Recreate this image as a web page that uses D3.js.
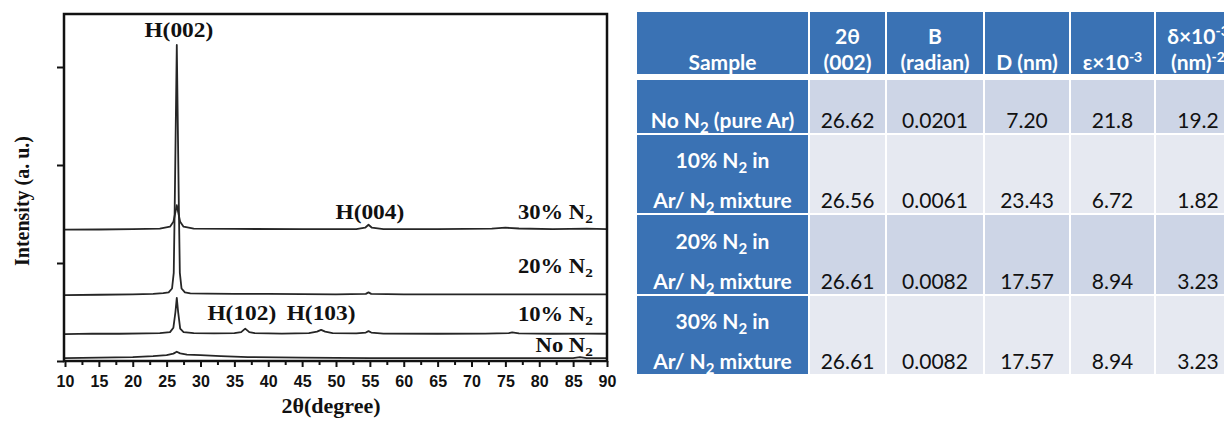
<!DOCTYPE html>
<html lang="en">
  <head>
    <meta charset="utf-8" />
    <title>XRD patterns and crystallite parameters</title>
    <script src="https://cdnjs.cloudflare.com/ajax/libs/d3/7.8.5/d3.min.js"></script>
    <style type="text/css">
      body {
        margin: 0;
        background: #fff;
      }
      .trace {
        fill: none;
        stroke: #262626;
        stroke-width: 1.8;
        stroke-linejoin: round;
      }
      .frame {
        fill: none;
        stroke: #111;
        stroke-width: 2.5;
      }
      .lbl {
        font-family: "Liberation Serif", "Times New Roman", serif;
        font-weight: bold;
        font-size: 20px;
        fill: #111;
      }
      .axis line {
        stroke: #111;
        stroke-width: 2;
      }
      .axis text {
        font-family: "Liberation Sans", Arial, sans-serif;
        font-weight: bold;
        font-size: 16px;
        fill: #111;
      }
      .headTxt {
        font-family: Lato, "Open Sans", sans-serif;
        font-weight: bold;
        font-size: 21px;
        fill: #fff;
      }
      .numTxt {
        font-family: Lato, "Open Sans", sans-serif;
        font-size: 21px;
        fill: #111;
      }
    </style>
  </head>

  <body>
    <svg id="fig" width="1224" height="424"></svg>

    <script>
      // XRD traces, [2theta, intensity a.u.] with the stacking offset already in
      const noN2 = [
        [10, 0.03], [15, 0.035], [20, 0.04], [23, 0.05], [25, 0.06], [26, 0.075],
        [26.5, 0.095], [27, 0.078], [28, 0.066], [30, 0.06], [33, 0.05], [37, 0.04],
        [45, 0.035], [55, 0.03], [65, 0.03], [75, 0.03], [85, 0.03], [86, 0.04],
        [87, 0.03], [90, 0.03],
      ];
      const n2_10 = [
        [10, 0.275], [14, 0.28], [18, 0.278], [22, 0.282], [24, 0.285], [25.5, 0.295],
        [26, 0.34], [26.3, 0.5], [26.5, 0.645], [26.7, 0.5], [27, 0.33], [27.5, 0.295],
        [29, 0.285], [32, 0.282], [35, 0.285], [36, 0.295], [36.6, 0.33], [37.2, 0.295],
        [38, 0.285], [42, 0.28], [46, 0.285], [47.2, 0.3], [47.8, 0.318], [48.4, 0.3],
        [49.5, 0.285], [53, 0.282], [54.4, 0.29], [54.8, 0.305], [55.2, 0.29], [57, 0.28],
        [65, 0.278], [72, 0.28], [75.5, 0.285], [76, 0.292], [77, 0.282], [82, 0.278],
        [87, 0.28], [90, 0.278],
      ];
      const n2_20 = [
        [10, 0.673], [15, 0.676], [20, 0.68], [23, 0.685], [24.5, 0.692], [25.3, 0.7],
        [25.8, 0.74], [26.05, 0.9], [26.2, 1.6], [26.5, 3.225], [26.8, 1.6], [26.95, 0.9],
        [27.2, 0.74], [27.7, 0.7], [28.5, 0.69], [31, 0.688], [35, 0.685], [40, 0.685],
        [45, 0.683], [50, 0.68], [54.4, 0.685], [54.8, 0.7], [55.2, 0.685], [60, 0.68],
        [70, 0.68], [80, 0.68], [90, 0.68],
      ];
      const n2_30 = [
        [10, 1.34], [15, 1.342], [20, 1.345], [24, 1.35], [25.5, 1.37], [26, 1.42],
        [26.3, 1.52], [26.5, 1.59], [26.7, 1.52], [27, 1.42], [27.5, 1.37], [29, 1.35],
        [35, 1.348], [45, 1.345], [53, 1.345], [54.3, 1.36], [54.8, 1.39], [55.3, 1.36],
        [57, 1.345], [65, 1.345], [73, 1.35], [75, 1.36], [77, 1.352], [82, 1.345],
        [87, 1.35], [90, 1.345],
      ];
      const traces = [noN2, n2_10, n2_20, n2_30];

      const xMajorTicks = d3.range(10, 91, 5);
      const xMinorTicks = d3.range(12.5, 90, 5);
      const yTicks = [0, 1, 2, 3];

      // peak and sample labels: text, 2theta, intensity
      const peakLabels = ["H(002)", "H(004)", "H(102)", "H(103)"];
      const peakAt = [[26.8, 3.31], [55, 1.45], [36.1, 0.42], [47.8, 0.42]];
      const sampleLabels = ["30% N_2", "20% N_2", "10% N_2", "No N_2"];
      const sampleAt = [[87.9, 1.45], [87.9, 0.9], [87.9, 0.41], [87.9, 0.09]];

      // table
      const headTop = ["", "2θ", "B", "", "", "δ×10^-3"];
      const headBottom = ["Sample", "(002)", "(radian)", "D (nm)", "ε×10^-3", "(nm)^-2"];
      const sampleTop = ["", "10% N_2 in", "20% N_2 in", "30% N_2 in"];
      const sampleBottom = ["No N_2 (pure Ar)", "Ar/ N_2 mixture", "Ar/ N_2 mixture", "Ar/ N_2 mixture"];
      const twoTheta = [26.62, 26.56, 26.61, 26.61];
      const bRadian = [0.0201, 0.0061, 0.0082, 0.0082];
      const crystD = [7.2, 23.43, 17.57, 17.57];
      const strain = [21.8, 6.72, 8.94, 8.94];
      const disloc = [19.2, 1.82, 3.23, 3.23];

      const svg = d3.select("#fig");

      // ---------- chart ----------
      const plot = { left: 64, right: 607, top: 14, bottom: 361 };
      const x = d3.scaleLinear().domain([10, 90]).range([plot.left + 1, plot.right]);
      const y = d3
        .scaleLinear()
        .domain([0, (plot.bottom - plot.top) / 98])
        .range([plot.bottom, plot.top]);

      const line = d3
        .line()
        .curve(d3.curveLinear)
        .x((d) => x(d[0]))
        .y((d) => y(d[1]));

      svg
        .append("g")
        .selectAll("path")
        .data(traces)
        .join("path")
        .attr("class", "trace")
        .attr("d", line);

      svg
        .append("g")
        .attr("class", "axis")
        .attr("transform", `translate(0,${plot.bottom})`)
        .call(d3.axisBottom(x).tickValues(xMajorTicks).tickSize(6).tickPadding(9).tickFormat(d3.format("d")))
        .call((g) => g.select(".domain").remove());

      svg
        .append("g")
        .attr("class", "axis")
        .attr("transform", `translate(0,${plot.bottom})`)
        .call(d3.axisBottom(x).tickValues(xMinorTicks).tickSize(4).tickFormat(""))
        .call((g) => g.select(".domain").remove());

      svg
        .append("g")
        .attr("class", "axis")
        .attr("transform", `translate(${plot.left},0)`)
        .call(d3.axisLeft(y).tickValues(yTicks).tickSize(7).tickFormat(""))
        .call((g) => g.select(".domain").remove());

      svg
        .append("rect")
        .attr("class", "frame")
        .attr("x", plot.left)
        .attr("y", plot.top)
        .attr("width", plot.right - plot.left)
        .attr("height", plot.bottom - plot.top);

      // text with _2 subscripts and ^-3 superscripts
      function rich(sel, str, small) {
        const parts = str.split(/([_^]-?\d)/).filter((s) => s !== "");
        let back = 0;
        parts.forEach((p) => {
          if (p[0] === "_" || p[0] === "^") {
            const shift = p[0] === "_" ? 0.3 : -0.55;
            sel
              .append("tspan")
              .attr("font-size", small)
              .attr("dy", `${shift - back}em`)
              .text(p.slice(1));
            back = shift;
          } else {
            sel.append("tspan").attr("dy", back ? `${-back * 0.68}em` : null).text(p);
            back = 0;
          }
        });
      }

      peakLabels.forEach((t, i) => {
        svg
          .append("text")
          .attr("class", "lbl")
          .attr("text-anchor", "middle")
          .attr("transform", `translate(${x(peakAt[i][0])},${y(peakAt[i][1])}) scale(1.17,1)`)
          .text(t);
      });

      sampleLabels.forEach((t, i) => {
        const tx = svg
          .append("text")
          .attr("class", "lbl")
          .attr("text-anchor", "end")
          .attr("transform", `translate(${x(sampleAt[i][0])},${y(sampleAt[i][1])}) scale(1.13,1)`);
        rich(tx, t, "13.5px");
      });

      svg
        .append("text")
        .attr("class", "lbl")
        .attr("text-anchor", "middle")
        .attr("transform", "translate(331,413) scale(1.1,1)")
        .text("2θ(degree)");

      svg
        .append("text")
        .attr("class", "lbl")
        .attr("text-anchor", "middle")
        .attr("transform", "translate(29,201) rotate(-90)")
        .text("Intensity (a. u.)");

      // ---------- table ----------
      const colEdges = [637, 810, 887, 985, 1071, 1156, 1242];
      const rowEdges = [80, 135, 215, 296, 376];
      const headY = [12, 74];
      const blue = "#3a72b4";
      const rowFill = ["#cdd5e6", "#e6e9f1"];
      const numCols = [
        twoTheta.map(d3.format(".2f")),
        bRadian.map(d3.format(".4f")),
        crystD.map(d3.format(".2f")),
        strain.map(d3.format(".3r")),
        disloc.map(d3.format(".3r")),
      ];
      const cx = (c) => (colEdges[c] + colEdges[c + 1] - 2) / 2;

      const tbl = svg.append("g");

      // header cells
      headBottom.forEach((h, c) => {
        tbl
          .append("rect")
          .attr("x", colEdges[c])
          .attr("y", headY[0])
          .attr("width", colEdges[c + 1] - colEdges[c] - 2)
          .attr("height", headY[1] - headY[0])
          .attr("fill", blue);
        if (headTop[c]) {
          rich(
            tbl.append("text").attr("class", "headTxt").attr("text-anchor", "middle").attr("x", cx(c)).attr("y", 44),
            headTop[c],
            "14px"
          );
        }
        rich(
          tbl.append("text").attr("class", "headTxt").attr("text-anchor", "middle").attr("x", cx(c)).attr("y", 70),
          h,
          "14px"
        );
      });

      // body cells
      sampleBottom.forEach((s, r) => {
        const top = rowEdges[r];
        const bot = rowEdges[r + 1] - 2;
        tbl
          .append("rect")
          .attr("x", colEdges[0])
          .attr("y", top)
          .attr("width", colEdges[1] - colEdges[0] - 2)
          .attr("height", bot - top)
          .attr("fill", blue);
        if (sampleTop[r]) {
          rich(
            tbl.append("text").attr("class", "headTxt").attr("text-anchor", "middle").attr("x", cx(0)).attr("y", bot - 45),
            sampleTop[r],
            "15px"
          );
        }
        rich(
          tbl.append("text").attr("class", "headTxt").attr("text-anchor", "middle").attr("x", cx(0)).attr("y", bot - 5),
          s,
          "15px"
        );
        numCols.forEach((col, k) => {
          const c = k + 1;
          tbl
            .append("rect")
            .attr("x", colEdges[c])
            .attr("y", top)
            .attr("width", colEdges[c + 1] - colEdges[c] - 2)
            .attr("height", bot - top)
            .attr("fill", rowFill[r % 2]);
          tbl
            .append("text")
            .attr("class", "numTxt")
            .attr("text-anchor", "middle")
            .attr("x", cx(c))
            .attr("y", bot - 5)
            .text(col[r]);
        });
      });
    </script>
  </body>
</html>
